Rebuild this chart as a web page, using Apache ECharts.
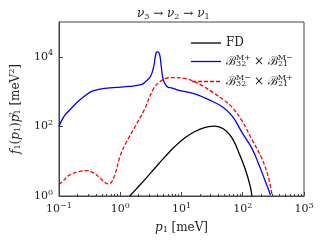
<!DOCTYPE html>
<html><head><meta charset="utf-8">
<script src="https://cdn.jsdelivr.net/npm/echarts@6/dist/echarts.min.js"></script>
<style>html,body{margin:0;padding:0;background:#fff}#c{width:320px;height:240px}</style>
</head><body><div id="c"></div>
<script>
// ---- data (p1 in meV, f1 p1^2 in meV^2) ----
var fdP = [1.43, 1.82, 2.61, 3.76, 5.4, 7.76, 11.1, 16, 23, 33, 42.2, 53.7, 68.4, 87, 111, 133, 141];
var fdF = [1, 1.58, 3.16, 6.6, 13.5, 26.3, 45.7, 69, 91, 102, 95, 74, 44, 17, 5.6, 1.86, 1];

var bluP = [0.1, 0.12, 0.155, 0.206, 0.266, 0.334, 0.443, 0.612, 0.88, 1.41, 2.18, 2.61, 3.13, 3.53, 3.85, 4.14, 4.4, 4.67, 4.96, 5.4, 6.08, 6.87, 8.75, 16, 29.4, 47.5, 68.4, 98, 141, 180, 229, 284];
var bluF = [100, 190, 316, 525, 760, 1000, 1150, 1260, 1320, 1410, 1580, 1950, 2750, 5370, 12900, 13800, 11500, 5370, 2450, 1660, 1320, 1290, 1100, 870, 560, 355, 190, 65, 23.4, 8.7, 2.9, 1.07];

var redP = [0.1, 0.12, 0.136, 0.166, 0.206, 0.28, 0.378, 0.458, 0.55, 0.62, 0.707, 0.83, 0.994, 1.265, 1.82, 2.47, 3.53, 4.51, 5.4, 6.47, 7.75, 11.1, 16, 23, 33, 47.5, 68.4, 98, 141, 202, 260, 303];
var redF = [2.14, 2.82, 3.63, 4.37, 5.0, 5.37, 4.47, 3.39, 2.51, 2.24, 2.4, 4.47, 14, 35.5, 112, 300, 1260, 1950, 2340, 2510, 2510, 2400, 1950, 1400, 930, 600, 340, 141, 42, 12.6, 3.63, 1];

var xMajor = [0.1, 1, 10, 100, 1000];
var yMajor = [1, 100, 10000];
var seriesNames = ['FD', 'B1', 'B2'];

function zip(a, b) { return a.map(function (v, i) { return [v, b[i]]; }); }
var xMinor = [];
for (var d = 0.1; d < 1000; d *= 10) for (var k = 2; k <= 9; k++) xMinor.push(+(d * k).toPrecision(3));

var FONT = 'DejaVu Serif';
var TXT = '#222';
var rich = {
  b: { fontFamily: FONT, fontSize: 11, fontWeight: 'normal', color: TXT, lineHeight: 14 },
  it: { fontFamily: FONT, fontSize: 12, fontStyle: 'italic', fontWeight: 'normal', color: TXT, lineHeight: 14 },
  t: { fontFamily: FONT, fontSize: 12, fontWeight: 'normal', color: TXT, lineHeight: 14 },
  sup: { fontFamily: FONT, fontSize: 8, fontWeight: 'normal', color: TXT, padding: [0, 0, 7, 0], lineHeight: 10 },
  sub: { fontFamily: FONT, fontSize: 8, fontWeight: 'normal', color: TXT, padding: [5, 0, 0, 0], lineHeight: 10 },
  sup0: { fontFamily: FONT, fontSize: 8, fontWeight: 'normal', color: TXT, padding: [0, 0, 7, 0], lineHeight: 10, width: 0.1 }
};
function pow10(v) {
  var e = Math.round(Math.log10(v));
  return '{b|10}{sup|' + (e < 0 ? '\u2212' + (-e) : e) + '}';
}
var legendText = {
  FD: '{t|FD}',
  B1: '{t|\u212C}{sup0|M+}{sub|32}{t|  \u00D7 \u212C}{sup0|M\u2212}{sub|21}',
  B2: '{t|\u212C}{sup0|M\u2212}{sub|32}{t|  \u00D7 \u212C}{sup0|M+}{sub|21}'
};
var solidIcon = 'path://M0,0h30v1.3h-30z';
var dashIcon = 'path://M0,0h4v1.3h-4zM6,0h4v1.3h-4zM12,0h4v1.3h-4zM18,0h4v1.3h-4zM24,0h4v1.3h-4z';

var chart = echarts.init(document.getElementById('c'), null, { renderer: 'canvas' });
chart.setOption({
  animation: false,
  title: {
    text: '{it|\u03BD}{sub|3}{t| \u2192 }{it|\u03BD}{sub|2}{t| \u2192 }{it|\u03BD}{sub|1}',
    left: 132, top: 2,
    textStyle: { rich: rich, fontFamily: FONT, fontSize: 12, fontWeight: 'normal' }
  },
  legend: {
    orient: 'vertical', left: 186, top: 32,
    itemWidth: 30, itemHeight: 1.3, itemGap: 5,
    data: [
      { name: 'FD', icon: solidIcon },
      { name: 'B1', icon: solidIcon },
      { name: 'B2', icon: dashIcon }
    ],
    formatter: function (n) { return legendText[n]; },
    textStyle: { rich: rich, fontWeight: 'normal' }
  },
  grid: { left: 50, right: 16, top: 22, bottom: 44, show: true, borderColor: '#444', borderWidth: 1, backgroundColor: 'transparent' },
  xAxis: [{
    type: 'log', logBase: 10, min: 0.1, max: 1000,
    name: '{it|p}{sub|1}{t| [meV]}', nameLocation: 'middle', nameGap: 24,
    nameTextStyle: { rich: rich },
    axisLine: { show: true, lineStyle: { color: '#444', width: 1 } },
    axisTick: { show: true, inside: true, length: 4, customValues: xMajor, lineStyle: { color: '#444' } },
    axisLabel: { customValues: xMajor, formatter: pow10, rich: rich, margin: 6 },
    splitLine: { show: false }, minorTick: { show: false }
  }, {
    type: 'log', logBase: 10, min: 0.1, max: 1000, position: 'bottom',
    axisLine: { show: false },
    axisTick: { show: true, inside: true, length: 2, customValues: xMinor, lineStyle: { color: '#444' } },
    axisLabel: { show: false }, splitLine: { show: false }
  }],
  yAxis: {
    type: 'log', logBase: 10, min: 1, max: 100000,
    name: '{it|f}{sub|1}{t|(}{it|p}{sub|1}{t|)}{it|p}{sup0|2}{sub|1}{t| [meV}{sup|2}{t|]}',
    nameLocation: 'middle', nameGap: 32, nameRotate: 90,
    nameTextStyle: { rich: rich },
    axisLine: { show: true, lineStyle: { color: '#444', width: 1 } },
    axisTick: { show: true, inside: true, length: 4, customValues: yMajor, lineStyle: { color: '#444' } },
    axisLabel: { customValues: yMajor, formatter: pow10, rich: rich, margin: 6 },
    splitLine: { show: false }
  },
  series: [
    { name: 'FD', type: 'line', data: zip(fdP, fdF), symbol: 'none', smooth: 0.4, lineStyle: { color: '#000', width: 1.3 }, itemStyle: { color: '#000' } },
    { name: 'B1', type: 'line', data: zip(bluP, bluF), symbol: 'none', smooth: 0.4, lineStyle: { color: '#0000ff', width: 1.3 }, itemStyle: { color: '#0000ff' } },
    { name: 'B2', type: 'line', data: zip(redP, redF), symbol: 'none', smooth: 0.4, lineStyle: { color: '#ff0000', width: 1.3, type: [4, 2] }, itemStyle: { color: '#ff0000' } }
  ]
});
</script></body></html>
